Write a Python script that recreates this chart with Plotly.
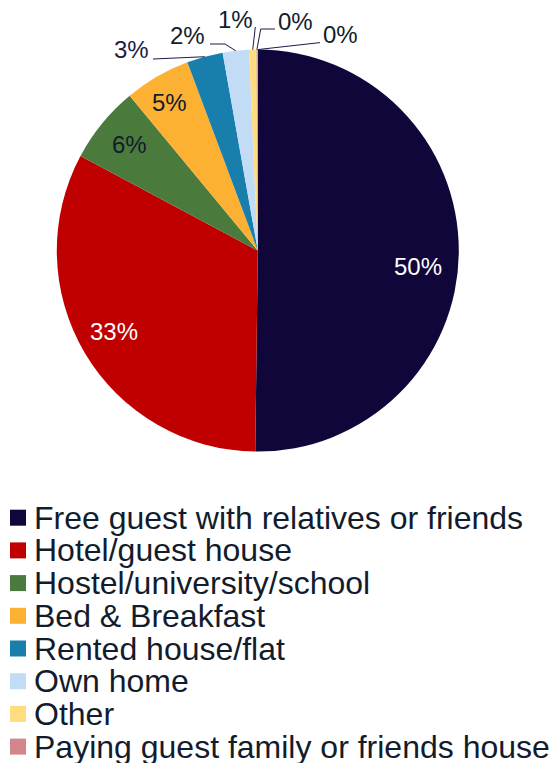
import plotly.graph_objects as go
import math

# Accommodation type shares (%)
categories = [
    "Free guest with relatives or friends",
    "Hotel/guest house",
    "Hostel/university/school",
    "Bed & Breakfast",
    "Rented house/flat",
    "Own home",
    "Other",
    "Paying guest family or friends house",
    "Camping/mobile home",
]
shares = [50.2, 32.6, 6.2, 5.3, 2.9, 2.1, 0.6, 0.06, 0.04]

colors = ["#10063a", "#c00000", "#4a7a3c", "#fdb133", "#187fac",
          "#c2dcf6", "#ffdc7f", "#d4878a", "#9f9f9f"]

W, H = 552, 763
CX, CY, R = 257.8, 250.6, 201.0
FONT = "Liberation Sans, Arial, sans-serif"
DARK = "#121c2c"
LEADER = "#1f1a48"

# label anchor points in page pixels (layout), one per slice
label_pos = [(417.5, 266), (114, 331), (129.5, 144), (169, 102),
             (131, 50), (187, 36), (235, 19.5), (295, 22), (340.5, 34.5)]
label_color = ["white", "white", DARK, DARK, LEADER, DARK, DARK, DARK, DARK]
# leader line start points (None = label sits inside the slice)
leader_from = [None, None, None, None,
               [(153, 59)], [(210, 44), (225, 44)], [(255.3, 27)],
               [(275, 29), (260.7, 29)], [(320, 42.6)]]


def px(x):
    return x / W


def py(y):
    return 1 - y / H


fig = go.Figure()
fig.add_trace(go.Pie(
    labels=categories,
    values=shares,
    sort=False,
    direction="clockwise",
    rotation=0,
    marker=dict(colors=colors, line=dict(width=0)),
    textinfo="none",
    hoverinfo="label+percent",
    showlegend=False,
    domain=dict(x=[px(CX - R), px(CX + R)], y=[py(CY + R), py(CY - R)]),
))

annotations = []
shapes = []

total = sum(shares)
cum = 0.0
for i, v in enumerate(shares):
    mid = (cum + v / 2) / total * 2 * math.pi
    cum += v
    ex = CX + R * math.sin(mid)
    ey = CY - R * math.cos(mid)
    lx, ly = label_pos[i]
    annotations.append(dict(
        x=px(lx), y=py(ly), xref="paper", yref="paper",
        text=f"{round(v):.0f}%", showarrow=False,
        xanchor="center", yanchor="middle",
        font=dict(family=FONT, size=24, color=label_color[i]),
    ))
    if leader_from[i]:
        pts = leader_from[i] + [(ex, ey)]
        path = "M " + " L ".join(f"{px(a):.5f},{py(b):.5f}" for a, b in pts)
        shapes.append(dict(type="path", path=path, xref="paper", yref="paper",
                           line=dict(color=LEADER, width=1)))

# legend rows drawn below the pie; rows that would fall past the page are left out
ROW0, ROW_STEP, SW = 517.7, 32.7, 16
for i, name in enumerate(categories):
    yc = ROW0 + i * ROW_STEP
    if yc > H:
        break
    shapes.append(dict(type="rect", xref="paper", yref="paper",
                       x0=px(10), x1=px(10 + SW), y0=py(yc + SW / 2), y1=py(yc - SW / 2),
                       fillcolor=colors[i], line=dict(width=0)))
    annotations.append(dict(
        x=px(32), y=py(yc), xref="paper", yref="paper", text=name,
        showarrow=False, xanchor="left", yanchor="middle",
        font=dict(family=FONT, size=32, color=DARK),
    ))

fig.update_layout(
    width=W, height=H,
    margin=dict(l=0, r=0, t=0, b=0),
    paper_bgcolor="white",
    plot_bgcolor="white",
    annotations=annotations,
    shapes=shapes,
)

fig.write_html("out.html")
